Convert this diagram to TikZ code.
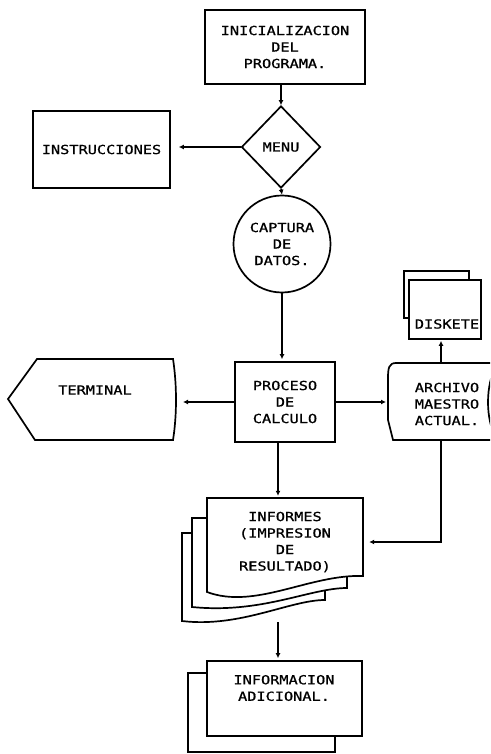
\documentclass[tikz,border=0pt]{standalone}
\usepackage{fontspec}
\setmonofont{DejaVu Sans Mono}[FakeStretch=1.22,FakeBold=0.9]
\usepackage{tikz}
\usetikzlibrary{arrows.meta,shapes.geometric}

\tikzset{
  flow/.style={line width=1.5pt, -{Latex[length=5pt,width=5pt]}},
  caja/.style={draw, line width=1.7pt, fill=white, inner sep=0pt},
  texto/.style={align=center, inner sep=0pt, font=\ttfamily\fontsize{12.5}{16.5}\selectfont},
}

\begin{document}
\begin{tikzpicture}[x=1pt,y=-1pt]
  \useasboundingbox (0,0) rectangle (490,754);
  \clip (0,0) rectangle (490,754);

  % parte superior
  \node[caja, texto, minimum width=160, minimum height=74] (init) at (285,47) {INICIALIZACION\\DEL\\PROGRAMA.};
  \node[caja, texto, diamond, minimum width=79, minimum height=82] (menu) at (281,147) {MENU};
  \node[caja, texto, minimum width=137, minimum height=77] (instr) at (101.5,149.5) {INSTRUCCIONES};
  \node[caja, texto, circle, minimum size=97] (captura) at (282,244) {CAPTURA\\DE\\DATOS.};
  \node[caja, texto, minimum width=100, minimum height=80] (proceso) at (285,402) {PROCESO\\DE\\CALCULO};

  \draw[flow] (init.south -| menu.north) -- (menu.north);
  \draw[flow, shorten >=8pt] (menu.west) -- (menu.west -| instr.east);
  \draw[flow] (menu.south) -- (captura.north);
  \draw[flow, shorten >=2pt] (captura.south) -- (captura.south |- proceso.north);

  % terminal
  \draw[caja] (8,399) -- (37,359) -- (173,359) .. controls (177,385) and (177,415) .. (173,440) -- (35,440) -- cycle;
  \node[texto] (terminal) at (95,390) {TERMINAL};
  \coordinate (termfin) at (177,401);
  \draw[flow, shorten >=6pt] (proceso.west) -- (proceso.west -| termfin);

  % archivo maestro y diskete
  \draw[caja] (497,363) -- (396,363) .. controls (389,363) and (388,368) .. (388,378) -- (388,420) -- (393,440) -- (497,440) .. controls (485,420) and (485,385) .. (497,363);
  \node[texto] (archivo) at (447,404) {ARCHIVO\\MAESTRO\\ACTUAL.};
  \coordinate (archin) at (388,402);
  \coordinate (archtop) at (441,363);
  \coordinate (archbot) at (441,440);
  \draw[flow, shorten >=2pt] (proceso.east) -- (archin);

  \draw[caja] (404,271) rectangle (469,318);
  \node[caja, minimum width=72, minimum height=59] (diskete) at (445,309.5) {};
  \node[texto] (disktxt) at (447,324) {DISKETE};
  \draw[flow, shorten >=1pt] (archtop) -- (archtop |- diskete.south);

  % informes
  \draw[caja] (182,533) -- (325,533) -- (325,600) .. controls (290,600) and (240,628) .. (182,621) -- cycle;
  \draw[caja] (192,518) -- (347,518) -- (347,588) .. controls (310,588) and (262,614) .. (192,607) -- cycle;
  \draw[caja] (207,498) -- (363,498) -- (363,576) .. controls (310,574) and (255,610) .. (207,592) -- cycle;
  \node[texto, minimum width=156, minimum height=88] (informes) at (285,542) {INFORMES\\(IMPRESION\\DE\\RESULTADO)};
  \coordinate (infobot) at (278,622);

  \draw[flow, shorten >=2pt] (proceso.south -| infobot) -- (infobot |- informes.north);
  \draw[flow, shorten >=6pt] (archbot) |- (informes.east);

  % informacion adicional
  \draw[caja] (188,673) rectangle (335,752);
  \node[caja, minimum width=155, minimum height=75] (adicional) at (284.5,698.5) {};
  \node[texto] (adictxt) at (284,688) {INFORMACION\\ADICIONAL.};
  \draw[flow, shorten >=2pt] (infobot) -- (infobot |- adicional.north);
\end{tikzpicture}
\end{document}
